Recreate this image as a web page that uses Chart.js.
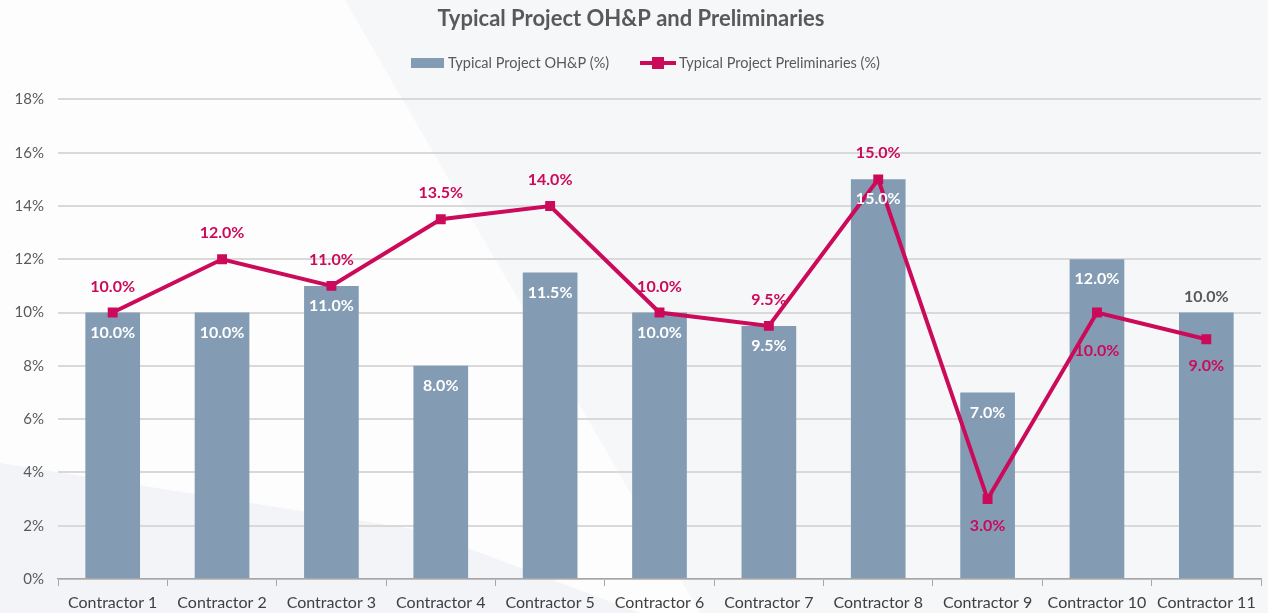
<!DOCTYPE html>
<html>
<head>
<meta charset="utf-8">
<script src="https://cdn.jsdelivr.net/npm/chart.js@4.4.1/dist/chart.umd.min.js"></script>
<style>
  html, body { margin: 0; padding: 0; background: #F6F7F9; }
  #wrap { width: 1268px; height: 613px; position: relative; }
</style>
</head>
<body>
<div id="wrap"><canvas id="chart"></canvas></div>
<script>
const categories = ['Contractor 1', 'Contractor 2', 'Contractor 3', 'Contractor 4', 'Contractor 5', 'Contractor 6',
    'Contractor 7', 'Contractor 8', 'Contractor 9', 'Contractor 10', 'Contractor 11'];
const ohpValues = [10.0, 10.0, 11.0, 8.0, 11.5, 10.0, 9.5, 15.0, 7.0, 12.0, 10.0];
const prelimValues = [10.0, 12.0, 11.0, 13.5, 14.0, 10.0, 9.5, 15.0, 3.0, 10.0, 9.0];
const yTicks = [0, 2, 4, 6, 8, 10, 12, 14, 16, 18];
const seriesNames = ['Typical Project OH&P (%)', 'Typical Project Preliminaries (%)'];
const titleText = 'Typical Project OH&P and Preliminaries';

// where each value label goes
const barLabelPos = ['in', 'in', 'in', 'in', 'in', 'in', 'in', 'in', 'in', 'in', 'out'];
const lineLabelPos = ['up', 'up', 'up', 'up', 'up', 'up', 'up', 'up', 'down', 'down2', 'down'];

const FONT = 'Lato, "Open Sans", sans-serif';
const BAR = '#839CB4';
const LINE = '#CC0A5A';
const GREY = '#595959';

const background = {
    id: 'background',
    beforeDraw(chart) {
        const c = chart.ctx, w = chart.width, h = chart.height;
        c.save();
        c.fillStyle = '#F6F7F9';
        c.fillRect(0, 0, w, h);
        c.fillStyle = '#FDFDFE';
        c.beginPath();
        c.moveTo(0, 0); c.lineTo(345, 0); c.lineTo(700, h); c.lineTo(0, h);
        c.closePath(); c.fill();
        c.fillStyle = '#F2F4F7';
        c.beginPath();
        c.moveTo(0, 463); c.lineTo(420, 530); c.lineTo(640, h); c.lineTo(0, h);
        c.closePath(); c.fill();
        c.restore();
    }
};

const legendAndLabels = {
    id: 'legendAndLabels',
    afterDatasetsDraw(chart) {
        const c = chart.ctx;
        c.save();
        // legend
        c.font = '14.5px ' + FONT;
        c.textBaseline = 'middle';
        c.textAlign = 'left';
        c.fillStyle = BAR;
        c.fillRect(411, 58, 33, 10);
        c.fillStyle = GREY;
        c.fillText(seriesNames[0], 448, 63);
        c.strokeStyle = LINE;
        c.lineWidth = 4;
        c.beginPath(); c.moveTo(640, 63); c.lineTo(676, 63); c.stroke();
        c.fillStyle = LINE;
        c.fillRect(652, 57, 12, 12);
        c.fillStyle = GREY;
        c.fillText(seriesNames[1], 679, 63);

        // value labels
        c.font = 'bold 16px ' + FONT;
        c.textAlign = 'center';
        const bars = chart.getDatasetMeta(1).data;
        bars.forEach((b, i) => {
            const txt = ohpValues[i].toFixed(1) + '%';
            if (barLabelPos[i] === 'in') {
                c.fillStyle = '#FFFFFF';
                c.fillText(txt, b.x, b.y + 20);
            } else {
                c.fillStyle = GREY;
                c.fillText(txt, b.x, b.y - 16);
            }
        });
        const pts = chart.getDatasetMeta(0).data;
        const off = { up: -26, down: 27, down2: 38 };
        pts.forEach((p, i) => {
            c.fillStyle = LINE;
            c.fillText(prelimValues[i].toFixed(1) + '%', p.x, p.y + off[lineLabelPos[i]]);
        });
        c.restore();
    }
};

new Chart(document.getElementById('chart'), {
    data: {
        labels: categories,
        datasets: [
            {
                type: 'line',
                label: seriesNames[1],
                data: prelimValues,
                borderColor: LINE,
                backgroundColor: LINE,
                borderWidth: 4,
                pointStyle: 'rect',
                pointRadius: 7,
                pointHoverRadius: 7,
                pointBorderWidth: 0,
                tension: 0,
                order: 0
            },
            {
                type: 'bar',
                label: seriesNames[0],
                data: ohpValues,
                backgroundColor: BAR,
                barPercentage: 0.5,
                categoryPercentage: 1.0,
                order: 1
            }
        ]
    },
    options: {
        responsive: true,
        maintainAspectRatio: false,
        animation: false,
        layout: { padding: { left: 0, right: 6, top: 0, bottom: 0 } },
        plugins: {
            legend: { display: false },
            tooltip: { enabled: false },
            title: {
                display: true,
                text: titleText,
                color: GREY,
                font: { family: FONT, size: 22, weight: 'bold' },
                padding: { top: 6, bottom: 67 }
            }
        },
        scales: {
            x: {
                grid: { display: true, drawOnChartArea: false, offset: true, tickLength: 7, color: '#A6A6A6', lineWidth: 1 },
                border: { display: true, color: '#A6A6A6', width: 1.5 },
                ticks: { color: '#404040', font: { family: FONT, size: 16 }, padding: 7, maxRotation: 0, autoSkip: false },
                afterFit(s) { s.height = 34; }
            },
            y: {
                min: 0,
                max: 18,
                afterBuildTicks(s) { s.ticks = yTicks.map(v => ({ value: v })); },
                grid: { color: '#D9D9D9', lineWidth: 2, drawTicks: false },
                border: { display: false },
                ticks: { color: GREY, font: { family: FONT, size: 15 }, padding: 14, callback: v => v + '%' },
                afterFit(s) { s.width = 58; }
            }
        }
    },
    plugins: [background, legendAndLabels]
});
</script>
</body>
</html>
